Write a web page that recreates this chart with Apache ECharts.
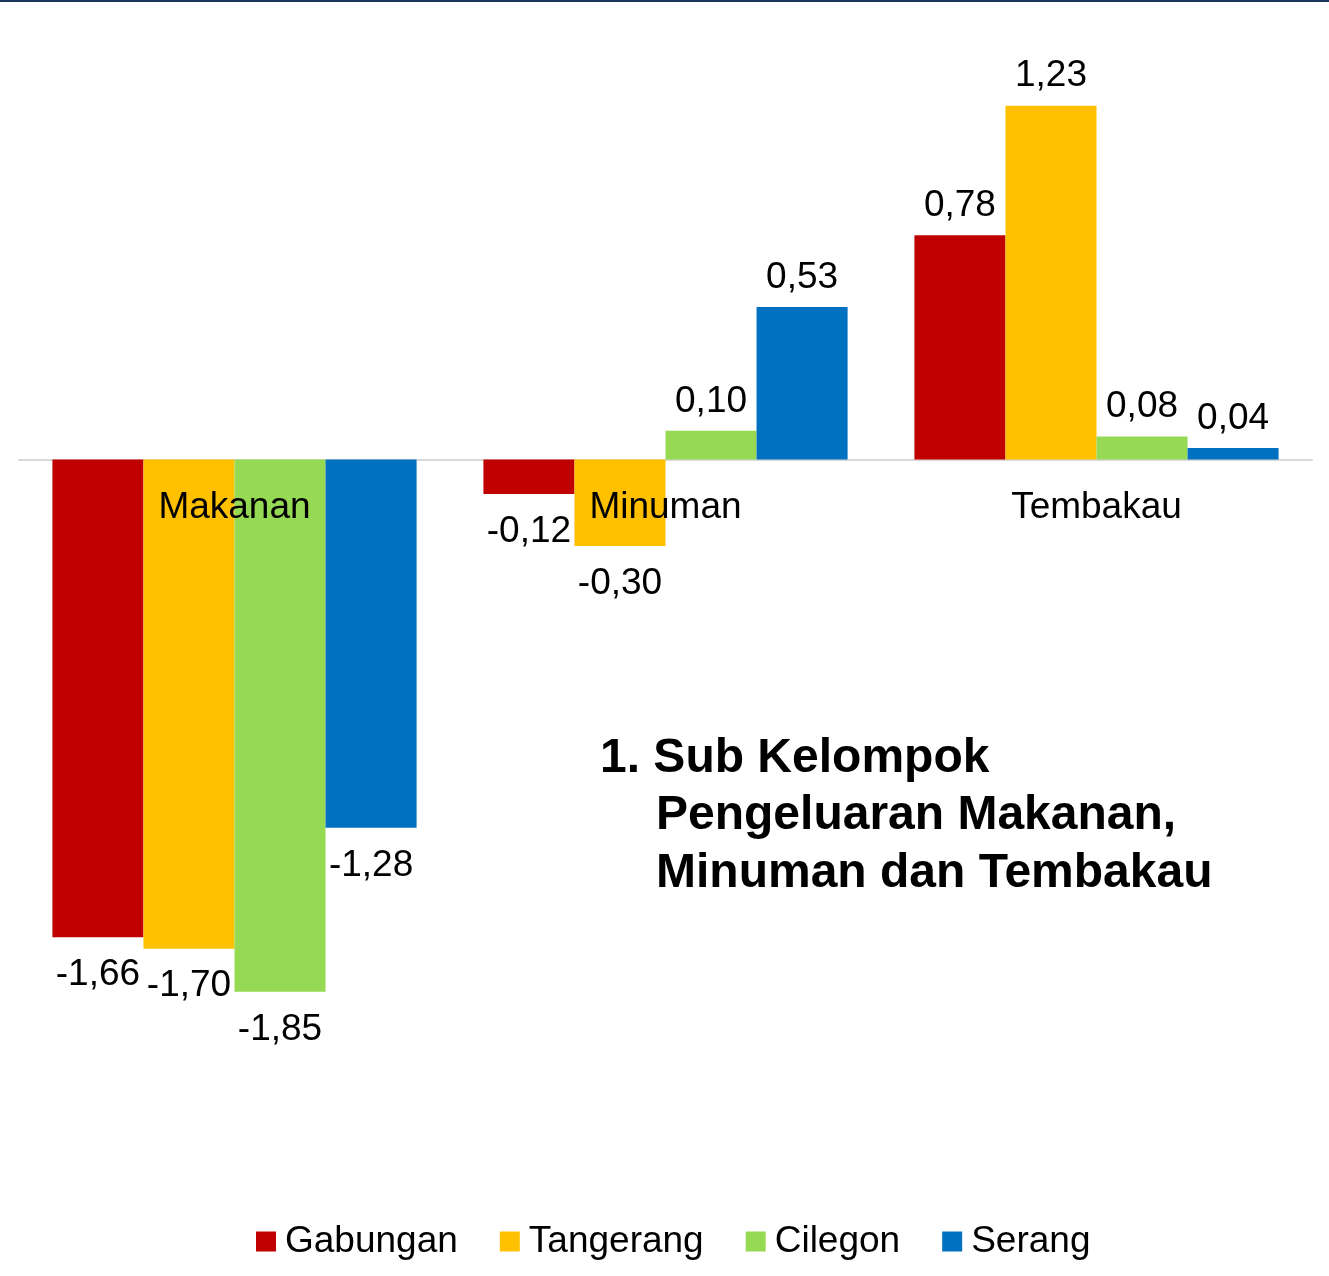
<!DOCTYPE html>
<html>
<head>
<meta charset="utf-8">
<script src="https://cdn.jsdelivr.net/npm/echarts@6/dist/echarts.min.js"></script>
<style>
  html, body { margin: 0; padding: 0; background: #fff; }
  #main { width: 1329px; height: 1276px; }
</style>
</head>
<body>
<div id="main"></div>
<script>
// kategori dan nilai inflasi per kota
var categories = ['Makanan', 'Minuman', 'Tembakau']
var gabungan = [-1.66, -0.12, 0.78]
var tangerang = [-1.70, -0.30, 1.23]
var cilegon = [-1.85, 0.10, 0.08]
var serang = [-1.28, 0.53, 0.04]
var seriesNames = ['Gabungan', 'Tangerang', 'Cilegon', 'Serang']
var colors = ['#C00000', '#FFC000', '#96D952', '#0070C0']
var titleLines = ['1. Sub Kelompok', 'Pengeluaran Makanan,', 'Minuman dan Tembakau']

var font = "'Liberation Sans', Arial, sans-serif"
var mychart = echarts.init(document.getElementById('main'))

function makeSeries (name, values, color) {
  return {
    name: name,
    type: 'bar',
    barGap: '0%',
    barCategoryGap: '15.5%',
    itemStyle: { color: color },
    // label di atas untuk positif, di bawah untuk negatif
    data: values.map(function (v) {
      return {
        value: v,
        label: { position: v < 0 ? 'bottom' : 'top', distance: v < 0 ? 19 : 11 }
      }
    }),
    label: {
      show: true,
      color: '#000',
      fontSize: 37,
      fontFamily: font,
      formatter: function (p) {
        return p.value.toFixed(2).replace('.', ',')
      }
    }
  }
}

var seriesList = seriesNames.map(function (n, i) {
  return makeSeries(n, [gabungan, tangerang, cilegon, serang][i], colors[i])
})

// nama kategori ditaruh tepat di bawah garis nol
seriesList.push({
  name: 'kategori',
  type: 'scatter',
  symbolSize: 0,
  silent: true,
  z: 5,
  itemStyle: { opacity: 1, color: '#000' },
  data: categories.map(function (c) { return { name: c, value: [c, 0] } }),
  label: {
    show: true,
    position: 'bottom',
    distance: 30,
    color: '#000',
    opacity: 1,
    fontSize: 37,
    fontFamily: font,
    formatter: function (p) { return p.name }
  }
})

var option = {
  backgroundColor: '#fff',
  animation: false,
  textStyle: { fontFamily: font },
  grid: {
    left: 19,
    right: 17,
    top: 28,
    height: 1007
  },
  legend: {
    data: seriesNames,
    top: 1218,
    left: 251,
    icon: 'rect',
    itemWidth: 20,
    itemHeight: 20,
    itemGap: 42,
    textStyle: { fontSize: 37, color: '#000', fontFamily: font, padding: [0, 0, 0, 4] }
  },
  xAxis: {
    type: 'category',
    data: categories,
    axisLine: { onZero: true, lineStyle: { color: '#d9d9d9', width: 2 } },
    axisTick: { show: false },
    axisLabel: { show: false }
  },
  yAxis: {
    type: 'value',
    min: -2,
    max: 1.5,
    show: false,
    splitLine: { show: false }
  },
  graphic: [
    { type: 'rect', left: 0, top: 0, shape: { width: 1329, height: 2 }, style: { fill: '#1b365d' } },
    { type: 'text', left: 600, top: 735, style: { text: titleLines[0], font: 'bold 48px ' + font, fill: '#000' } },
    { type: 'text', left: 656, top: 792, style: { text: titleLines[1], font: 'bold 48px ' + font, fill: '#000' } },
    { type: 'text', left: 656, top: 850, style: { text: titleLines[2], font: 'bold 48px ' + font, fill: '#000' } }
  ],
  series: seriesList
}
mychart.setOption(option)
</script>
</body>
</html>
